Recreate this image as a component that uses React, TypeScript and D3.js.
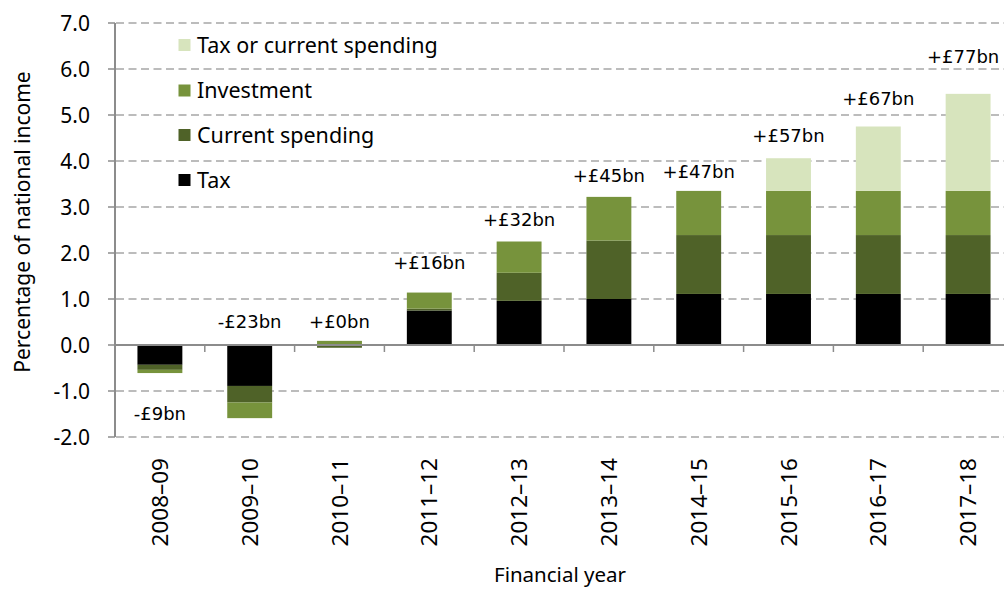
import React from "react";
import * as d3 from "d3";

const years = ["2008–09", "2009–10", "2010–11", "2011–12", "2012–13", "2013–14", "2014–15", "2015–16", "2016–17", "2017–18"];
const tax = [-0.43, -0.89, 0.0, 0.75, 0.96, 1.0, 1.11, 1.11, 1.11, 1.11];
const currentSpending = [-0.11, -0.36, -0.06, 0.04, 0.61, 1.27, 1.28, 1.28, 1.28, 1.28];
const investment = [-0.07, -0.34, 0.09, 0.35, 0.68, 0.95, 0.96, 0.96, 0.96, 0.96];
const taxOrCurrent = [0, 0, 0, 0, 0, 0, 0, 0.71, 1.4, 2.11];
const totalLabels = ["-£9bn", "-£23bn", "+£0bn", "+£16bn", "+£32bn", "+£45bn", "+£47bn", "+£57bn", "+£67bn", "+£77bn"];
// label anchor (baseline) expressed in chart units (% of national income)
const labelAt = [-1.63, 0.36, 0.36, 1.65, 2.59, 3.55, 3.62, 4.42, 5.22, 6.12];
const yTicks = [-2, -1, 0, 1, 2, 3, 4, 5, 6, 7];

const seriesKeys = ["tax", "current", "investment", "taxOrCurrent"];
const seriesNames = ["Tax", "Current spending", "Investment", "Tax or current spending"];
const colors = ["#000000", "#4f6228", "#77933c", "#d7e4bd"];

const W = 1004;
const H = 590;

export default function App() {
  const x = d3.scaleBand<string>().domain(years).range([115, 1013]).paddingInner(0.5).paddingOuter(0.25);
  const y = d3.scaleLinear().domain([-2, 7]).range([437, 23]);
  const step = x.step();

  const rows = years.map((yr, i) => ({
    year: yr,
    tax: tax[i],
    current: currentSpending[i],
    investment: investment[i],
    taxOrCurrent: taxOrCurrent[i],
  }));
  const stack = d3.stack<any>().keys(seriesKeys).offset(d3.stackOffsetDiverging);
  const series = stack(rows);

  const font = "'Noto Sans', sans-serif";
  const labelFont = "'DejaVu Sans', sans-serif";
  const legendOrder = [3, 2, 1, 0];
  const legendY = [45, 90.5, 135, 180];

  return (
    <div style={{ position: "absolute", left: 0, top: 0 }}>
      <svg width={W} height={H} style={{ display: "block", background: "#fff" }}>
        {/* gridlines */}
        {yTicks.filter((t) => t !== 0).map((t) => (
          <line key={"g" + t} x1={116} x2={W} y1={y(t)} y2={y(t)} stroke="#a6a6a6" strokeWidth={1.5} strokeDasharray="8,4.5" />
        ))}
        {/* bars */}
        {series.map((s, si) => (
          <g key={s.key} fill={colors[si]}>
            {s.map((d, i) => {
              const y0 = y(Math.max(d[0], d[1]));
              const y1 = y(Math.min(d[0], d[1]));
              if (Math.abs(y1 - y0) < 0.01) return null;
              return <rect key={i} x={x(years[i])} y={y0} width={x.bandwidth()} height={y1 - y0} />;
            })}
          </g>
        ))}
        {/* y axis */}
        <line x1={115} x2={115} y1={y(7)} y2={y(-2)} stroke="#8c8c8c" strokeWidth={2} />
        {yTicks.map((t) => (
          <g key={"t" + t}>
            <line x1={108} x2={115} y1={y(t)} y2={y(t)} stroke="#8c8c8c" strokeWidth={1.5} />
            <text x={90} y={y(t)} dy="0.36em" textAnchor="end" fontFamily={font} fontSize={21} fill="#000">
              {t.toFixed(1)}
            </text>
          </g>
        ))}
        {/* x axis */}
        <line x1={115} x2={W} y1={y(0)} y2={y(0)} stroke="#8c8c8c" strokeWidth={2} />
        {years.map((yr, i) => (
          <line key={"xt" + i} x1={115 + step * i} x2={115 + step * i} y1={y(0)} y2={y(0) + 7} stroke="#8c8c8c" strokeWidth={1.5} />
        ))}
        {years.map((yr) => {
          const cx = (x(yr) as number) + x.bandwidth() / 2;
          return (
            <text key={"xl" + yr} transform={`translate(${cx},458) rotate(-90)`} textAnchor="end" dy="0.36em" fontFamily={font} fontSize={22.5} fill="#000">
              {yr}
            </text>
          );
        })}
        {/* total labels */}
        {years.map((yr, i) => {
          const cx = (x(yr) as number) + x.bandwidth() / 2;
          return (
            <text key={"lb" + i} x={i === years.length - 1 ? cx - 5 : cx} y={y(labelAt[i])} textAnchor="middle" fontFamily={labelFont} fontSize={18} fill="#000">
              {totalLabels[i]}
            </text>
          );
        })}
        {/* legend */}
        {legendOrder.map((si, k) => (
          <g key={"lg" + si}>
            <rect x={178.5} y={legendY[k] - 6} width={12} height={12} fill={colors[si]} />
            <text x={197} y={legendY[k]} dy="0.36em" fontFamily={font} fontSize={21.5} fill="#000">
              {seriesNames[si]}
            </text>
          </g>
        ))}
        {/* axis titles */}
        <text transform={`translate(22,222) rotate(-90)`} textAnchor="middle" dy="0.36em" fontFamily={font} fontSize={21} fill="#000">
          Percentage of national income
        </text>
        <text x={560} y={575} textAnchor="middle" dy="0.36em" fontFamily="'Liberation Sans Narrow', 'Noto Sans', sans-serif" fontSize={20.5} fill="#000">
          Financial year
        </text>
      </svg>
    </div>
  );
}
